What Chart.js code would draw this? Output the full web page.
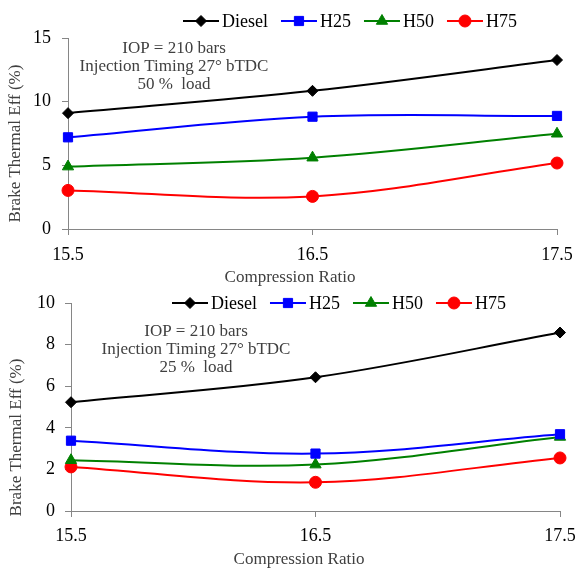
<!DOCTYPE html>
<html><head><meta charset="utf-8">
<script src="https://cdn.jsdelivr.net/npm/chart.js@4.4.0/dist/chart.umd.min.js"></script>
<style>
html,body{margin:0;padding:0;background:#fff;}
#wrap{position:relative;width:576px;height:569px;background:#fff;}
canvas{position:absolute;left:0;}
#c1{top:0}
#c2{top:290px}
</style></head><body>
<div id="wrap"><canvas id="c1" width="576" height="290"></canvas><canvas id="c2" width="576" height="279"></canvas></div>
<script>
// ---- data ----
const compressionRatio = [15.5, 16.5, 17.5];
const seriesNames = ['Diesel', 'H25', 'H50', 'H75'];
// 50 % load (top chart)
const diesel50 = [9.1, 10.85, 13.27];
const h25at50 = [7.2, 8.82, 8.88];
const h50at50 = [4.9, 5.6, 7.48];
const h75at50 = [3.03, 2.56, 5.18];
// 25 % load (bottom chart)
const diesel25 = [5.23, 6.43, 8.58];
const h25at25 = [3.38, 2.76, 3.69];
const h50at25 = [2.44, 2.23, 3.56];
const h75at25 = [2.12, 1.38, 2.55];
// y tick settings
const yTicksTop = [0, 5, 10, 15];
const yTicksBottom = [0, 2, 4, 6, 8, 10];
const annotTop = ['IOP = 210 bars', 'Injection Timing 27\u00B0 bTDC', '50 %  load'];
const annotBottom = ['IOP = 210 bars', 'Injection Timing 27\u00B0 bTDC', '25 %  load'];
const xTitle = 'Compression Ratio';
const yTitle = 'Brake Thermal Eff (%)';

// ---- styles ----
const styles = [
  {color: '#000000', pointStyle: 'rectRot', radius: 5.5},
  {color: '#0000FF', pointStyle: 'rect', radius: 6.5},
  {color: '#008000', pointStyle: 'triangle', radius: 6.5},
  {color: '#FF0000', pointStyle: 'circle', radius: 6}
];
const SERIF = '"Liberation Serif", "Times New Roman", serif';

function drawMarker(ctx, style, r, x, y) {
  if (Chart.helpers && Chart.helpers.drawPoint) {
    Chart.helpers.drawPoint(ctx, {pointStyle: style, radius: r, rotation: 0, borderWidth: 1}, x, y);
  } else {
    ctx.beginPath(); ctx.arc(x, y, r, 0, Math.PI * 2); ctx.fill(); ctx.stroke();
  }
}

const decor = {
  id: 'decor',
  afterDraw(chart, args, o) {
    const ctx = chart.ctx;
    ctx.save();
    // legend
    let x = o.legendX; const y = o.legendY;
    ctx.font = '18px ' + SERIF;
    ctx.textBaseline = 'middle'; ctx.textAlign = 'left';
    chart.data.datasets.forEach(ds => {
      ctx.strokeStyle = ds.borderColor; ctx.lineWidth = 2;
      ctx.beginPath(); ctx.moveTo(x, y); ctx.lineTo(x + 36, y); ctx.stroke();
      ctx.fillStyle = ds.borderColor; ctx.lineWidth = 1;
      drawMarker(ctx, ds.pointStyle, ds.pointRadius, x + 18, y);
      ctx.fillStyle = '#000';
      ctx.fillText(ds.label, x + 39, y + 1);
      x += 39 + ctx.measureText(ds.label).width + 13;
    });
    // annotation
    ctx.font = '17px ' + SERIF;
    ctx.fillStyle = '#404040'; ctx.textAlign = 'center'; ctx.textBaseline = 'middle';
    o.annot.forEach((t, i) => ctx.fillText(t, o.annotX, o.annotY + i * 18));
    // x title
    ctx.textBaseline = 'alphabetic';
    ctx.fillText(xTitle, o.xTitleX, o.xTitleY);
    // y title
    ctx.translate(o.yTitleX, o.yTitleY);
    ctx.rotate(-Math.PI / 2);
    ctx.textBaseline = 'middle';
    ctx.fillText(yTitle, 0, 0);
    ctx.restore();
  }
};

function makeChart(id, values, yT, pad, yWidth, xHeight, yPad, xPad, decorOpts) {
  const datasets = values.map((v, i) => ({
    label: seriesNames[i],
    data: v,
    borderColor: styles[i].color,
    backgroundColor: styles[i].color,
    pointBackgroundColor: styles[i].color,
    pointBorderColor: styles[i].color,
    pointStyle: styles[i].pointStyle,
    pointRadius: styles[i].radius,
    pointBorderWidth: 1,
    borderWidth: 2,
    tension: 0.35,
    fill: false,
    clip: false
  }));
  return new Chart(document.getElementById(id), {
    type: 'line',
    data: {labels: compressionRatio.map(v => v.toFixed(1)), datasets},
    options: {
      responsive: false, animation: false, devicePixelRatio: 1,
      layout: {padding: pad},
      plugins: {legend: {display: false}, tooltip: {enabled: false}, decor: decorOpts},
      scales: {
        x: {
          offset: false,
          grid: {drawOnChartArea: false, drawTicks: true, tickLength: 6, color: '#868686'},
          border: {color: '#868686', width: 1},
          ticks: {font: {family: SERIF, size: 18}, color: '#000', padding: xPad, maxRotation: 0},
          afterFit: s => { s.height = xHeight; s.paddingLeft = 0; s.paddingRight = 0; }
        },
        y: {
          min: yT[0], max: yT[yT.length - 1],
          grid: {drawOnChartArea: false, drawTicks: true, tickLength: 6, color: '#868686'},
          border: {color: '#868686', width: 1},
          ticks: {stepSize: yT[1] - yT[0], font: {family: SERIF, size: 18}, color: '#000', padding: yPad},
          afterFit: s => { s.width = yWidth; s.paddingTop = 0; s.paddingBottom = 0; }
        }
      }
    },
    plugins: [decor]
  });
}

makeChart('c1', [diesel50, h25at50, h50at50, h75at50], yTicksTop,
  {top: 38, right: 19, left: 0, bottom: 0}, 68, 61, 11, 9,
  {legendX: 183, legendY: 21, annot: annotTop, annotX: 174, annotY: 49,
   xTitleX: 290, xTitleY: 282, yTitleX: 16, yTitleY: 143.5});

makeChart('c2', [diesel25, h25at25, h50at25, h75at25], yTicksBottom,
  {top: 13, right: 16, left: 0, bottom: 0}, 71, 58, 10, 8,
  {legendX: 172, legendY: 13, annot: annotBottom, annotX: 196, annotY: 41.7,
   xTitleX: 299, xTitleY: 274, yTitleX: 17, yTitleY: 147.5});
</script>
</body></html>
